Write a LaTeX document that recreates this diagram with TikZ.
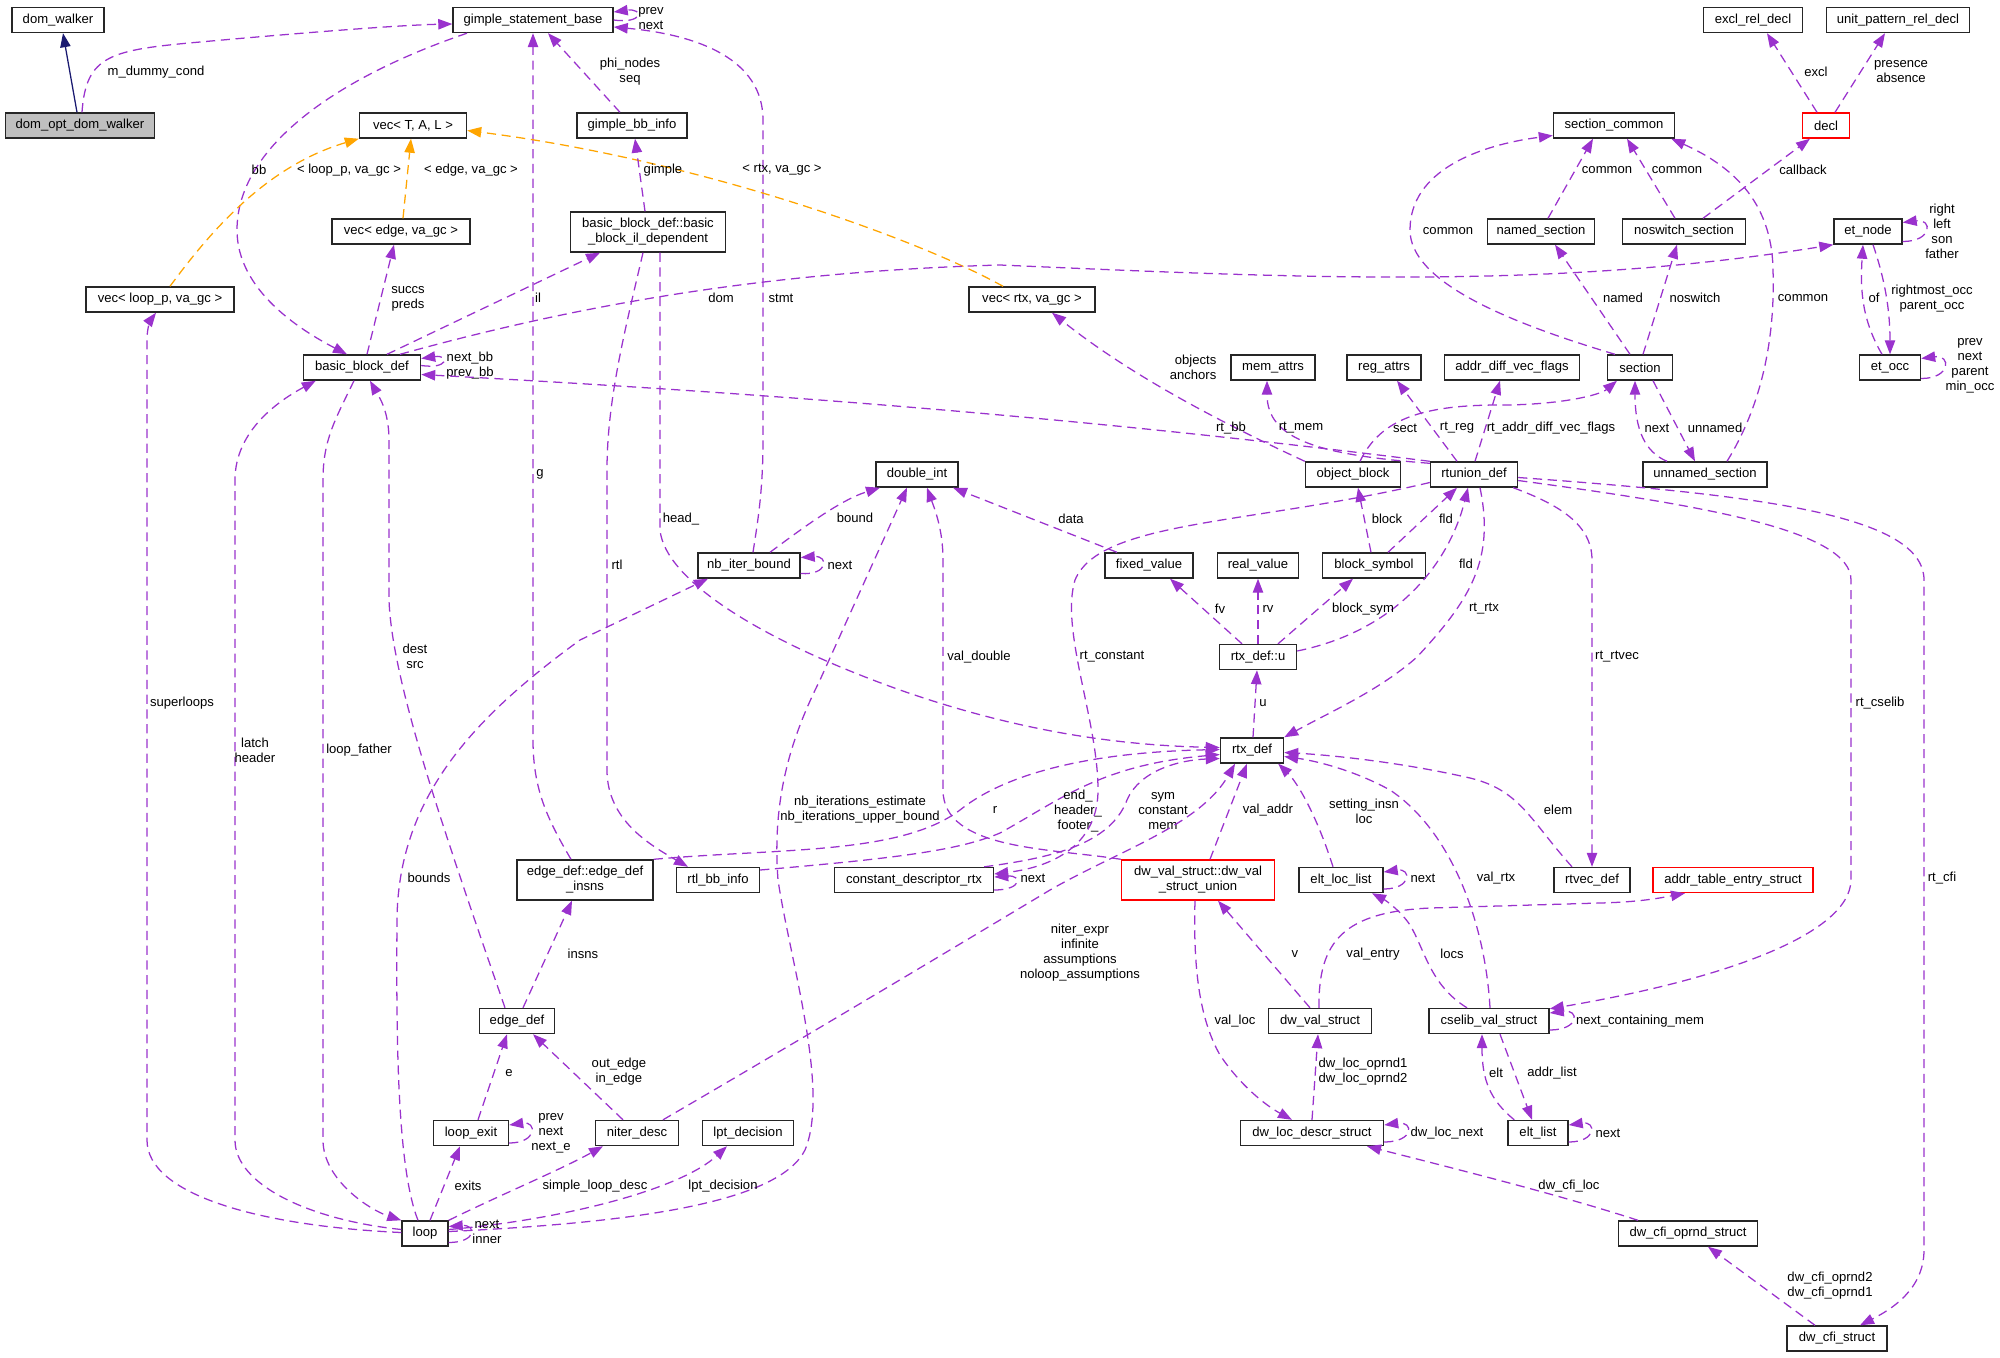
\documentclass[tikz,border=0pt]{standalone}
\usepackage{fontspec}
\setmainfont{Liberation Sans}
\usepackage{tikz}
\usetikzlibrary{arrows.meta,calc}
\definecolor{dxpurple}{RGB}{154,50,205}
\definecolor{dxorange}{RGB}{255,165,0}
\definecolor{dxnavy}{RGB}{25,25,112}
\definecolor{dxgray}{RGB}{191,191,191}
\definecolor{dxred}{RGB}{255,0,0}

\begin{document}
\begin{tikzpicture}[
  x=0.025cm, y=-0.025cm,
  font=\fontsize{9.3}{10.7}\selectfont,
  cls/.style={draw=black!85, line width=1pt, fill=white,
              minimum height=0.625cm, inner sep=1pt, align=center},
  cls2/.style={cls, minimum height=1cm},
  rel/.style={draw=dxpurple, line width=0.9pt, dash pattern=on 6.5pt off 4pt,
              -{Triangle[length=0.35cm, width=0.26cm]}},
  tmpl/.style={rel, draw=dxorange},
  inh/.style={draw=dxnavy, line width=0.9pt, -{Triangle[length=0.35cm, width=0.26cm]}},
  lbl/.style={align=center, inner sep=0pt}
]
\useasboundingbox (0,0) rectangle (2000,1357);

% ---- Classes ----
\foreach \nm/\px/\py/\bw/\txt in {
  domw/58/20/2.3/dom\_walker,
  gsb/533/20/4.0/gimple\_statement\_base,
  vecT/413/125.5/2.675/{vec< T, A, L >},
  vecE/401/231.5/3.45/{vec< edge, va\_gc >},
  vecL/160/299.5/3.7/{vec< loop\_p, va\_gc >},
  bbd/362/367.5/2.925/basic\_block\_def,
  gbb/632/125.5/2.75/gimple\_bb\_info,
  vecR/1032/299.5/3.15/{vec< rtx, va\_gc >},
  memA/1273/367.5/2.1/mem\_attrs,
  regA/1384/367.5/1.85/reg\_attrs,
  adv/1512/367.5/3.375/addr\_diff\_vec\_flags,
  secC/1614/125.5/3.025/section\_common,
  named/1541/231.5/2.675/named\_section,
  nosw/1684/231.5/3.075/noswitch\_section,
  excl/1753/20/2.475/excl\_rel\_decl,
  unitp/1898/20/3.575/unit\_pattern\_rel\_decl,
  etn/1868/231.5/1.7/et\_node,
  sec/1640/367.5/1.625/section,
  eto/1890/367.5/1.525/et\_occ,
  dint/917/474.5/2.05/double\_int,
  nbib/749/565.5/2.55/nb\_iter\_bound,
  rtlbb/718/880/2.075/rtl\_bb\_info,
  cdr/914/880/3.975/constant\_descriptor\_rtx,
  objb/1353/474.5/2.375/object\_block,
  rtu/1474/474.5/2.175/rtunion\_def,
  unsec/1705/474.5/3.1/unnamed\_section,
  fixv/1149/565.5/2.2/fixed\_value,
  realv/1258/565.5/2.025/real\_value,
  blks/1374/565.5/2.575/block\_symbol,
  rtxu/1258/657/1.925/rtx\_def::u,
  rtx/1252/750.5/1.575/rtx\_def,
  ell/1341/880/2.1/elt\_loc\_list,
  rtv/1592/880/1.9/rtvec\_def,
  loop/425/1233.5/1.15/loop,
  lexit/471/1133/1.875/loop\_exit,
  edef/517/1021/1.875/edge\_def,
  nitd/637/1133/2.075/niter\_desc,
  lpt/748/1133/2.275/lpt\_decision,
  dwv/1320/1021/2.575/dw\_val\_struct,
  csv/1489/1021/3.0/cselib\_val\_struct,
  dwl/1312/1133/3.575/dw\_loc\_descr\_struct,
  elt/1538/1133/1.5/elt\_list,
  cfio/1688/1233.5/3.475/dw\_cfi\_oprnd\_struct,
  cfis/1837/1338.5/2.5/dw\_cfi\_struct}
  \node[cls, minimum width=\bw cm] (\nm) at (\px,\py) {\txt};

\node[cls, fill=dxgray, minimum width=3.725cm] (domopt) at (80,125.5) {dom\_opt\_dom\_walker};
\node[cls2, minimum width=3.875cm] (bbil) at (648,232) {basic\_block\_def::basic\\\_block\_il\_dependent};
\node[cls2, minimum width=3.4cm] (edins) at (585,880) {edge\_def::edge\_def\\\_insns};
\node[cls, draw=dxred, minimum width=1.175cm] (decl) at (1826,125.5) {decl};
\node[cls2, draw=dxred, minimum width=3.825cm] (dwvu) at (1198,880) {dw\_val\_struct::dw\_val\\\_struct\_union};
\node[cls, draw=dxred, minimum width=4.0cm] (ate) at (1733,880) {addr\_table\_entry\_struct};

% ---- dom_opt_dom_walker ----
\draw[inh] ($(domopt.north)+(-3,0)$) -- ($(domw.south)+(5,0)$);
\draw[rel] ($(domopt.north)+(2,0)$) .. controls (86,55) and (110,50) .. (200,42)
  .. controls (300,33) and (400,25) .. ($(gsb.west)+(0,4)$)
  node[lbl] at (156,72) {m\_dummy\_cond};

% ---- gimple / basic blocks ----
\draw[rel] (gsb.east) .. controls +(30,4) and +(30,-4) .. ($(gsb.east)+(0,-8)$)
  node[lbl] at (651,19) {prev\\next};
\draw[rel] ($(nbib.north)+(4,0)$) .. controls (758,520) and (763,490) .. (763,440)
  -- (763,120) .. controls (763,60) and (700,35) .. ($(gsb.east)+(0,7)$)
  node[lbl] at (781,298) {stmt};
\draw[rel] ($(gbb.north)+(-12,0)$) -- ($(gsb.south)+(15,0)$)
  node[lbl] at (630,72) {phi\_nodes\\seq};
\draw[rel] ($(edins.north)+(-14,0)$) .. controls (548,820) and (533,790) .. (533,740)
  -- (gsb.south) node[lbl] at (540,474) {g};
\draw[rel] ($(gsb.south)+(-66,0)$) .. controls (330,80) and (237,150) .. (237,230)
  .. controls (237,290) and (300,330) .. ($(bbd.north)+(-15,0)$)
  node[lbl] at (259,170) {bb};
\draw[tmpl] ($(vecL.north)+(10,0)$) .. controls (215,225) and (270,165) .. (vecT.south west)
  node[lbl] at (349,170) {< loop\_p, va\_gc >};
\draw[tmpl] ($(vecE.north)+(2,0)$) -- ($(vecT.south)+(-2,0)$)
  node[lbl] at (471,170) {< edge, va\_gc >};
\draw[tmpl] ($(vecR.north)+(-29,0)$) .. controls (920,240) and (700,160) .. ($(vecT.east)+(0,5)$)
  node[lbl] at (782,170) {< rtx, va\_gc >};
\draw[rel] ($(bbd.north)+(5,0)$) -- ($(vecE.south)+(-7,0)$)
  node[lbl] at (408,299) {succs\\preds};
\draw[rel] ($(bbd.east)+(0,-2)$) .. controls +(28,4) and +(28,-4) .. ($(bbd.east)+(0,-9)$)
  node[lbl] at (470,366) {next\_bb\\prev\_bb};
\draw[rel] ($(bbd.north)+(25,0)$) -- ($(bbil.south)+(-48,0)$)
  node[lbl] at (538,298) {il};
\draw[rel] ($(bbd.north)+(38,0)$) .. controls (560,310) and (750,272) .. (1000,265)
  .. controls (1300,278) and (1550,290) .. (etn.south west)
  node[lbl] at (721,298) {dom};
\draw[rel] ($(bbil.north)+(-3,0)$) -- ($(gbb.south)+(3,0)$)
  node[lbl] at (663,170) {gimple};
\draw[rel] ($(bbil.south)+(12,0)$) -- (660,530) .. controls (665,580) and (760,640) .. (900,690)
  .. controls (1000,725) and (1100,745) .. ($(rtx.west)+(0,-3)$)
  node[lbl] at (681,519) {head\_};
\draw[rel] ($(bbil.south)+(-5,0)$) .. controls (625,330) and (607,400) .. (607,470)
  -- (607,770) .. controls (607,820) and (650,845) .. ($(rtlbb.north)+(-30,0)$)
  node[lbl] at (617,565) {rtl};

% ---- loops ----
\draw[rel] ($(loop.west)+(0,-1)$) .. controls (260,1226) and (147,1195) .. (147,1140)
  -- (147,340) .. controls (147,325) and (152,318) .. ($(vecL.south)+(-4,0)$)
  node[lbl] at (182,703) {superloops};
\draw[rel] ($(loop.west)+(0,-4)$) .. controls (310,1220) and (235,1185) .. (235,1140)
  -- (235,480) .. controls (235,430) and (280,400) .. ($(bbd.south west)+(13,0)$)
  node[lbl] at (255,750) {latch\\header};
\draw[rel] ($(bbd.south)+(-8,0)$) .. controls (335,420) and (323,440) .. (323,480)
  -- (323,1140) .. controls (323,1180) and (370,1210) .. (loop.north west)
  node[lbl] at (359,750) {loop\_father};
\draw[rel] ($(edef.north)+(-12,0)$) .. controls (440,820) and (392,680) .. (389,600)
  -- (389,440) .. controls (389,410) and (378,395) .. ($(bbd.south)+(8,0)$)
  node[lbl] at (415,656) {dest\\src};
\draw[rel] ($(loop.north)+(-7,0)$) .. controls (398,1170) and (396,1050) .. (397,920)
  .. controls (398,800) and (470,720) .. (580,640) -- ($(nbib.south)+(-41,0)$)
  node[lbl] at (429,878) {bounds};
\draw[rel] ($(loop.east)+(0,-2)$) .. controls (650,1222) and (780,1200) .. (805,1150)
  .. controls (830,1090) and (790,960) .. (778,880)
  .. controls (772,800) and (790,740) .. (820,680) -- ($(dint.south)+(-10,0)$)
  node[lbl] at (860,810) {nb\_iterations\_estimate\\nb\_iterations\_upper\_bound};
\draw[rel] ($(nbib.north)+(21,0)$) .. controls (800,530) and (840,500) .. ($(dint.south)+(-37,0)$)
  node[lbl] at (855,518) {bound};
\draw[rel] ($(nbib.east)+(0,8)$) .. controls +(28,2) and +(28,-2) .. ($(nbib.east)+(0,-8)$)
  node[lbl] at (840,565) {next};
\draw[rel] ($(edef.north)+(6,0)$) -- ($(edins.south)+(-13,0)$)
  node[lbl] at (583,954) {insns};
\draw[rel] ($(lexit.north)+(7,0)$) -- ($(edef.south)+(-10,0)$)
  node[lbl] at (509,1073) {e};
\draw[rel] ($(nitd.north)+(-14,0)$) -- ($(edef.south)+(16,0)$)
  node[lbl] at (619,1072) {out\_edge\\in\_edge};
\draw[rel] ($(lexit.east)+(0,10)$) .. controls +(28,0) and +(28,-4) .. ($(lexit.east)+(0,-8)$)
  node[lbl] at (551,1133) {prev\\next\\next\_e};
\draw[rel] ($(loop.north)+(5,0)$) -- ($(lexit.south)+(-11,0)$)
  node[lbl] at (468,1186) {exits};
\draw[rel] (loop.north east) .. controls (500,1195) and (560,1170) .. ($(nitd.south)+(-34,0)$)
  node[lbl] at (595,1186) {simple\_loop\_desc};
\draw[rel] ($(loop.east)+(0,-4)$) .. controls (560,1220) and (680,1190) .. ($(lpt.south)+(-21,0)$)
  node[lbl] at (723,1186) {lpt\_decision};
\draw[rel] ($(loop.east)+(0,9)$) .. controls +(28,0) and +(28,-2) .. ($(loop.east)+(0,-7)$)
  node[lbl] at (487,1232) {next\\inner};

% ---- rtx ----
\draw[rel] ($(fixv.north)+(-32,0)$) -- ($(dint.south)+(36,0)$)
  node[lbl] at (1071,519) {data};
\draw[rel] (dwvu.north west) .. controls (1050,848) and (943,850) .. (943,790)
  -- (943,560) .. controls (943,530) and (935,510) .. ($(dint.south)+(10,0)$)
  node[lbl] at (979,657) {val\_double};
\draw[rel] ($(rtu.south)+(6,0)$) .. controls (1495,560) and (1470,600) .. (1417,657)
  .. controls (1380,690) and (1330,712) .. (rtx.north east)
  node[lbl] at (1484,609) {rt\_rtx};
\draw[rel] ($(rtxu.east)+(0,-6)$) .. controls (1400,630) and (1450,560) .. ($(rtu.south)+(-6,0)$)
  node[lbl] at (1466,564) {fld};
\draw[rel] ($(blks.north)+(14,0)$) -- ($(rtu.south)+(-17,0)$)
  node[lbl] at (1446,519) {fld};
\draw[rel] ($(blks.north)+(-3,0)$) -- ($(objb.south)+(5,0)$)
  node[lbl] at (1387,519) {block};
\draw[rel] ($(objb.north)+(7,0)$) .. controls (1380,420) and (1420,405) .. (1500,405)
  .. controls (1560,405) and (1600,395) .. ($(sec.south)+(-23,0)$)
  node[lbl] at (1405,428) {sect};
\draw[rel] (objb.north west) .. controls (1220,422) and (1130,375) .. ($(vecR.south)+(20,0)$)
  node[lbl, anchor=east, align=right] at (1217,367) {objects\\anchors};
\draw[rel] (rtu.north west) .. controls (1100,420) and (800,395) .. ($(bbd.east)+(0,7)$)
  node[lbl] at (1231,428) {rt\_bb};
\draw[rel] ($(rtu.north west)+(0,2)$) .. controls (1320,455) and (1267,440) .. ($(memA.south)+(-6,0)$)
  node[lbl] at (1301,428) {rt\_mem};
\draw[rel] ($(rtu.north)+(-17,0)$) -- ($(regA.south)+(13,0)$)
  node[lbl] at (1457,428) {rt\_reg};
\draw[rel] ($(rtu.north)+(1,0)$) -- ($(adv.south)+(-12,0)$)
  node[lbl] at (1551,428) {rt\_addr\_diff\_vec\_flags};
\draw[rel] ($(rtxu.north)+(-16,0)$) -- ($(fixv.south)+(21,0)$)
  node[lbl] at (1220,609) {fv};
\draw[rel] (rtxu.north) -- (realv.south) node[lbl] at (1268,609) {rv};
\draw[rel] ($(rtxu.north)+(20,0)$) -- ($(blks.south)+(-21,0)$)
  node[lbl] at (1363,609) {block\_sym};
\draw[rel] ($(rtx.north)+(1,0)$) -- ($(rtxu.south)+(-1,0)$)
  node[lbl] at (1263,703) {u};
\draw[rel] (edins.north east) .. controls (780,848) and (900,855) .. (960,810)
  .. controls (1010,770) and (1100,752) .. ($(rtx.west)+(0,-1)$)
  node[lbl] at (995,810) {r};
\draw[rel] ($(rtlbb.east)+(0,-10)$) .. controls (900,858) and (960,850) .. (1000,833)
  .. controls (1060,800) and (1100,765) .. ($(rtx.west)+(0,4)$)
  node[lbl] at (1078,811) {end\_\\header\_\\footer\_};
\draw[rel] ($(cdr.north east)+(-10,0)$) .. controls (1050,858) and (1110,845) .. (1127,800)
  .. controls (1140,770) and (1180,760) .. ($(rtx.west)+(0,8)$)
  node[lbl] at (1163,811) {sym\\constant\\mem};
\draw[rel] ($(rtu.west)+(0,8)$) .. controls (1250,525) and (1100,520) .. (1075,580)
  .. controls (1060,630) and (1098,720) .. (1098,790)
  .. controls (1098,840) and (1060,866) .. ($(cdr.east)+(0,-6)$)
  node[lbl] at (1112,657) {rt\_constant};
\draw[rel] ($(cdr.east)+(0,10)$) .. controls +(28,0) and +(28,-2) .. ($(cdr.east)+(0,-3)$)
  node[lbl] at (1033,878) {next};
\draw[rel] ($(nitd.north)+(26,0)$) .. controls (800,1040) and (950,950) .. (1050,890)
  .. controls (1120,850) and (1200,825) .. ($(rtx.south)+(-17,0)$)
  node[lbl] at (1080,953) {niter\_expr\\infinite\\assumptions\\noloop\_assumptions};
\draw[rel] ($(dwvu.north)+(12,0)$) -- ($(rtx.south)+(-5,0)$)
  node[lbl] at (1268,810) {val\_addr};
\draw[rel] ($(ell.north)+(-8,0)$) .. controls (1315,810) and (1295,780) .. ($(rtx.south east)+(-6,0)$)
  node[lbl] at (1364,811) {setting\_insn\\loc};
\draw[rel] ($(ell.east)+(0,9)$) .. controls +(28,0) and +(28,-4) .. ($(ell.east)+(0,-8)$)
  node[lbl] at (1423,878) {next};
\draw[rel] ($(rtv.north)+(-20,0)$) .. controls (1530,820) and (1520,790) .. (1470,778)
  .. controls (1400,762) and (1330,755) .. ($(rtx.east)+(0,2)$)
  node[lbl] at (1558,810) {elem};
\draw[rel] ($(csv.north)+(1,0)$) .. controls (1485,920) and (1450,830) .. (1390,790)
  .. controls (1350,768) and (1310,760) .. ($(rtx.east)+(0,6)$)
  node[lbl] at (1496,878) {val\_rtx};
\draw[rel] ($(rtu.south east)+(-5,0)$) .. controls (1560,505) and (1592,525) .. (1592,560)
  -- (rtv.north) node[lbl] at (1617,657) {rt\_rtvec};
\draw[rel] ($(rtu.east)+(0,6)$) .. controls (1700,505) and (1851,530) .. (1851,580)
  -- (1851,880) .. controls (1850,935) and (1720,980) .. ($(csv.north east)+(0,1)$)
  node[lbl] at (1880,703) {rt\_cselib};
\draw[rel] ($(rtu.east)+(0,3)$) .. controls (1760,495) and (1924,515) .. (1924,580)
  -- (1924,1250) .. controls (1924,1290) and (1890,1310) .. ($(cfis.north)+(23,0)$)
  node[lbl] at (1942,878) {rt\_cfi};

% ---- sections ----
\draw[rel] ($(sec.north)+(-25,0)$) .. controls (1500,320) and (1410,280) .. (1410,230)
  .. controls (1410,170) and (1480,145) .. ($(secC.west)+(0,10)$)
  node[lbl] at (1448,231) {common};
\draw[rel] ($(named.north)+(7,0)$) -- ($(secC.south)+(-21,0)$)
  node[lbl] at (1607,170) {common};
\draw[rel] ($(nosw.north)+(-9,0)$) -- ($(secC.south)+(13,0)$)
  node[lbl] at (1677,170) {common};
\draw[rel] ($(nosw.north)+(19,0)$) -- ($(decl.south)+(-16,0)$)
  node[lbl] at (1803,170) {callback};
\draw[rel] ($(decl.north)+(-9,0)$) -- ($(excl.south)+(14,0)$)
  node[lbl] at (1816,72) {excl};
\draw[rel] ($(decl.north)+(9,0)$) -- ($(unitp.south)+(-13,0)$)
  node[lbl] at (1901,72) {presence\\absence};
\draw[rel] ($(unsec.north)+(22,0)$) .. controls (1765,400) and (1775,330) .. (1773,270)
  .. controls (1772,200) and (1730,165) .. ($(secC.south east)+(-4,0)$)
  node[lbl] at (1803,298) {common};
\draw[rel] ($(sec.north)+(-10,0)$) -- ($(named.south)+(14,0)$)
  node[lbl] at (1623,298) {named};
\draw[rel] ($(sec.north)+(3,0)$) -- ($(nosw.south)+(-7,0)$)
  node[lbl] at (1695,298) {noswitch};
\draw[rel] ($(unsec.north)+(-38,0)$) .. controls (1645,452) and (1635,430) .. ($(sec.south)+(-5,0)$)
  node[lbl] at (1657,428) {next};
\draw[rel] ($(sec.south)+(13,0)$) -- ($(unsec.north)+(-10,0)$)
  node[lbl] at (1715,428) {unnamed};

% ---- et tree ----
\draw[rel] ($(etn.east)+(0,10)$) .. controls +(30,0) and +(30,-4) .. ($(etn.east)+(0,-9)$)
  node[lbl] at (1942,231) {right\\left\\son\\father};
\draw[rel] ($(eto.north)+(-8,0)$) .. controls (1862,320) and (1860,290) .. ($(etn.south)+(-5,0)$)
  node[lbl] at (1874,298) {of};
\draw[rel] ($(etn.south)+(5,0)$) .. controls (1885,280) and (1890,310) .. (eto.north)
  node[lbl] at (1932,299) {rightmost\_occ\\parent\_occ};
\draw[rel] ($(eto.east)+(0,11)$) .. controls +(30,0) and +(30,-4) .. ($(eto.east)+(0,-9)$)
  node[lbl] at (1970,366) {prev\\next\\parent\\min\_occ};

% ---- dwarf / cselib ----
\draw[rel] ($(dwvu.south)+(-3,0)$) .. controls (1193,970) and (1200,1020) .. (1220,1055)
  .. controls (1240,1085) and (1265,1105) .. ($(dwl.north)+(-20,0)$)
  node[lbl] at (1235,1021) {val\_loc};
\draw[rel] ($(dwv.north)+(-10,0)$) -- ($(dwvu.south)+(20,0)$)
  node[lbl] at (1295,954) {v};
\draw[rel] (dwl.north) -- ($(dwv.south)+(-2,0)$)
  node[lbl] at (1363,1072) {dw\_loc\_oprnd1\\dw\_loc\_oprnd2};
\draw[rel] ($(dwl.east)+(0,9)$) .. controls +(30,0) and +(30,-4) .. ($(dwl.east)+(0,-8)$)
  node[lbl] at (1447,1133) {dw\_loc\_next};
\draw[rel] ($(dwv.north)+(-1,0)$) .. controls (1318,940) and (1345,912) .. (1430,908)
  -- (1600,903) .. controls (1640,902) and (1660,898) .. ($(ate.south)+(-48,0)$)
  node[lbl] at (1373,954) {val\_entry};
\draw[rel] ($(csv.north)+(-22,0)$) .. controls (1430,985) and (1425,950) .. (1410,925)
  .. controls (1400,910) and (1385,900) .. ($(ell.south)+(31,0)$)
  node[lbl] at (1452,954) {locs};
\draw[rel] ($(csv.east)+(0,9)$) .. controls +(30,0) and +(30,-4) .. ($(csv.east)+(0,-8)$)
  node[lbl] at (1640,1021) {next\_containing\_mem};
\draw[rel] ($(elt.north west)+(7,0)$) .. controls (1490,1100) and (1482,1080) .. ($(csv.south)+(-7,0)$)
  node[lbl] at (1496,1073) {elt};
\draw[rel] ($(csv.south)+(11,0)$) -- ($(elt.north)+(-6,0)$)
  node[lbl] at (1552,1073) {addr\_list};
\draw[rel] ($(elt.east)+(0,9)$) .. controls +(28,0) and +(28,-4) .. ($(elt.east)+(0,-8)$)
  node[lbl] at (1608,1133) {next};
\draw[rel] ($(cfio.north)+(-50,0)$) .. controls (1560,1195) and (1460,1170) .. ($(dwl.south)+(55,0)$)
  node[lbl] at (1569,1186) {dw\_cfi\_loc};
\draw[rel] ($(cfis.north)+(-22,0)$) -- ($(cfio.south)+(20,0)$)
  node[lbl] at (1830,1286) {dw\_cfi\_oprnd2\\dw\_cfi\_oprnd1};

\end{tikzpicture}
\end{document}
